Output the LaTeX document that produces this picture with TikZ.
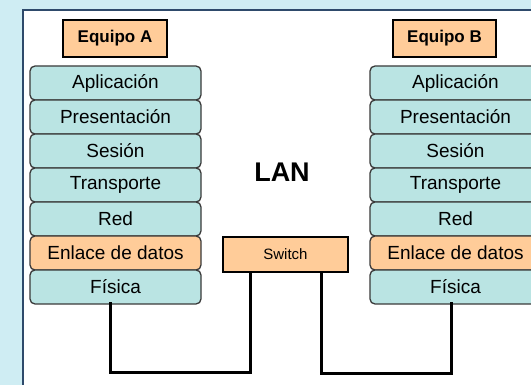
\documentclass[tikz,border=0pt]{standalone}
\usepackage{fontspec}
\setmainfont{Liberation Sans}
\usetikzlibrary{positioning}

\definecolor{peach}{HTML}{FFCC99}
\definecolor{layerfill}{HTML}{BAE4E3}
\definecolor{layerline}{HTML}{3A3A3A}
\definecolor{panelline}{HTML}{2E4A6B}
\definecolor{backfill}{HTML}{CFEDF3}

\tikzset{
  layer/.style={draw=layerline, line width=1.3pt, fill=layerfill, rounded corners=5pt,
    minimum width=171pt, minimum height=34pt, inner sep=0pt, outer sep=0pt,
    font=\fontsize{19}{22}\selectfont},
  host/.style={draw=black, line width=1.3pt, fill=peach, minimum width=104pt,
    minimum height=37pt, inner sep=0pt, font=\fontsize{17}{20}\selectfont\bfseries},
  cable/.style={line width=3pt, line cap=rect}
}

\begin{document}
\begin{tikzpicture}[x=1pt, y=-1pt]
\clip (0,0) rectangle (531,385);
\useasboundingbox (0,0) rectangle (531,385);
%% background and panel
\fill[backfill] (0,0) rectangle (531,385);
\draw[panelline, line width=2pt, fill=white] (22.5,10.5) rectangle (560,420);

%% EQUIPO A
\node[host](host_a) at (115,38.5){Equipo A};
\node[layer](app_a) at (115.5,83){Aplicación};
\node[layer, below=0pt of app_a](pres_a){Presentación};
\node[layer, below=0pt of pres_a](ses_a){Sesión};
\node[layer, below=0pt of ses_a](trans_a){Transporte};
\node[layer, below=0pt of trans_a](red_a){Red};
\node[layer, fill=peach, below=0pt of red_a](enl_a){Enlace de datos};
\node[layer, below=0pt of enl_a](fis_a){Física};

%% EQUIPO B
\node[host, minimum width=103pt](host_b) at (444.5,38.5){Equipo B};
\node[layer](app_b) at (455.5,83){Aplicación};
\node[layer, below=0pt of app_b](pres_b){Presentación};
\node[layer, below=0pt of pres_b](ses_b){Sesión};
\node[layer, below=0pt of ses_b](trans_b){Transporte};
\node[layer, below=0pt of trans_b](red_b){Red};
\node[layer, fill=peach, below=0pt of red_b](enl_b){Enlace de datos};
\node[layer, below=0pt of enl_b](fis_b){Física};

%% LAN and switch
\node[font=\fontsize{27}{30}\selectfont\bfseries](lan) at (282,172){LAN};
\node[host, minimum width=125pt, minimum height=35pt,
      font=\fontsize{15}{18}\selectfont](switch) at (285.5,254.5){Switch};

% cables
\draw[cable] ([xshift=-5.5pt]fis_a.south) -- ++(0,68) -| ([xshift=-35.5pt]switch.south);
\draw[cable] ([xshift=35.5pt]switch.south) -- ++(0,101) -| ([xshift=-4.5pt]fis_b.south);

\end{tikzpicture}
\end{document}
